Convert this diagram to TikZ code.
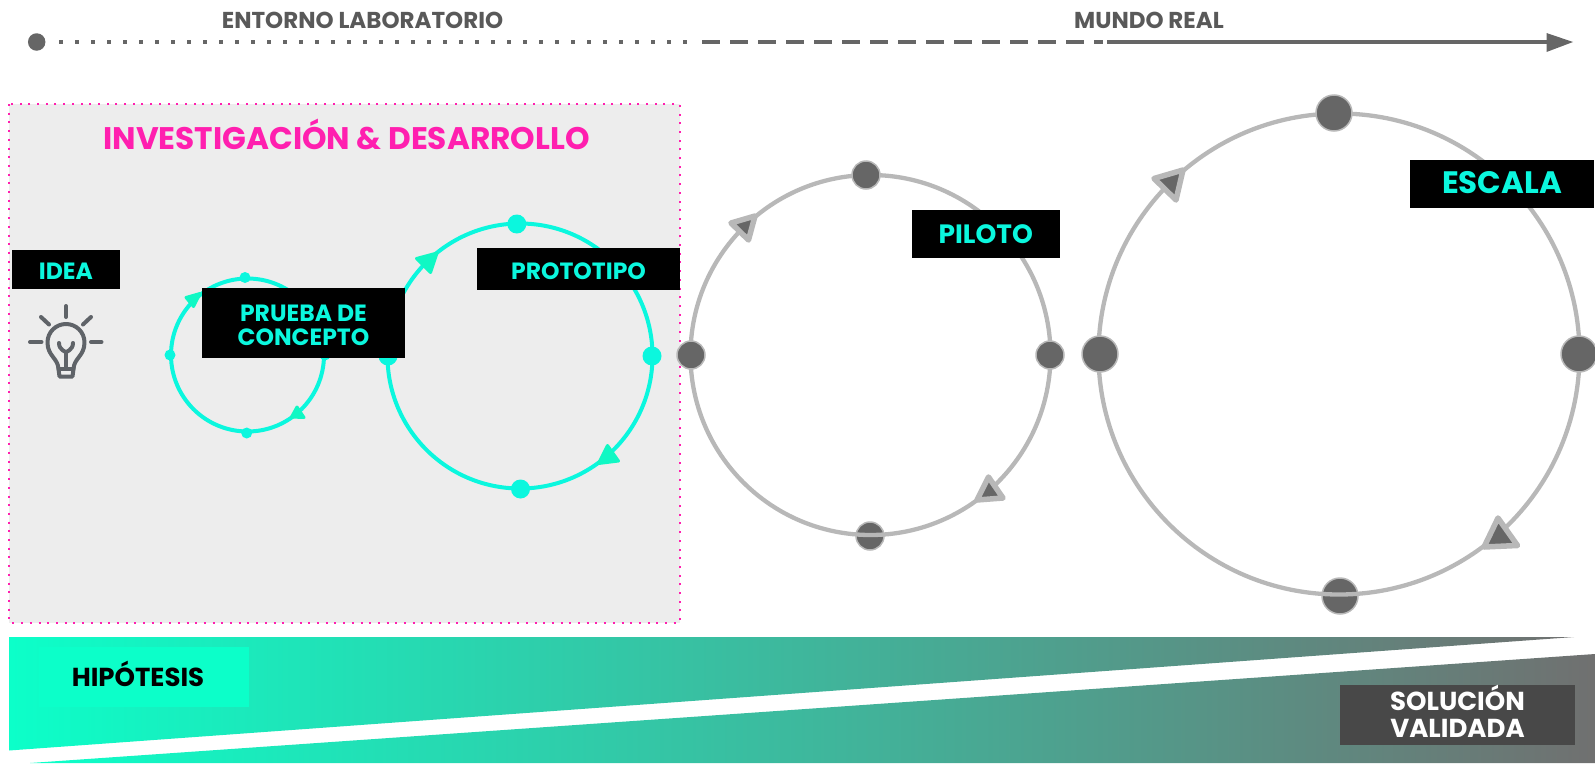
\documentclass[tikz,border=0pt]{standalone}
\usepackage{fontspec}
\setmainfont{Poppins}
\definecolor{cyanline}{HTML}{0BF7DE}
\definecolor{mint}{HTML}{0CFFC9}
\definecolor{arrowmint}{HTML}{10F8C4}
\definecolor{pink}{HTML}{FF1FAF}
\definecolor{panel}{HTML}{EDEDED}
\definecolor{ringgray}{HTML}{B8B8B8}
\definecolor{dark}{HTML}{666666}
\definecolor{label}{HTML}{595959}
\definecolor{bulb}{HTML}{5F6368}
\definecolor{endgray}{HTML}{707070}
\definecolor{solbox}{HTML}{484848}
\newcommand{\capline}[2]{\raisebox{#1pt}[\fontcharht\font`E][0pt]{#2}}
\tikzset{
  tag/.style={fill=black,text=cyanline,font=\bfseries\fontsize{23.5}{23.5}\selectfont,align=center,inner sep=0pt,anchor=center},
  cring/.style={circle,draw=cyanline,line width=4pt,inner sep=0pt},
  cdot/.style={circle,fill=cyanline,inner sep=0pt},
  gring/.style={circle,draw=ringgray,line width=4.3pt,inner sep=0pt},
  gdot/.style={circle,fill=dark,draw=ringgray,line width=1.5pt,inner sep=0pt},
  carrow/.style={fill=arrowmint,draw=arrowmint,line width=3pt,line join=round},
  garrow/.style={fill=dark,draw=ringgray,line width=5.5pt,line join=round},
  bulbline/.style={draw=bulb,line width=4pt,line cap=round,line join=round},
  toplabel/.style={text=label,font=\bfseries\fontsize{23}{26}\selectfont,inner sep=0pt},
  topline/.style={draw=dark,line width=4pt}
}
\begin{document}
\begin{tikzpicture}[x=1pt,y=-1pt]
\useasboundingbox (0,0) rectangle (1595,763);
% timeline
\node[circle,fill=dark,minimum size=17.5pt,inner sep=0pt] (start) at (36.7,42) {};
\coordinate (dotstart) at (59,42);
\coordinate (dotend) at (690,42);
\coordinate (dashstart) at (702,42);
\coordinate (dashend) at (1103,42);
\coordinate (solidstart) at (1107,42);
\coordinate (solidend) at (1550,42);
\coordinate (tipA) at (1573,42);
\coordinate (tipB) at (1546.5,33);
\coordinate (tipC) at (1546.5,52);
\draw[topline,dash pattern=on 4pt off 12pt] (dotstart) -- (dotend);
\draw[topline,dash pattern=on 17.5pt off 10.5pt] (dashstart) -- (dashend);
\draw[topline] (solidstart) -- (solidend);
\fill[dark] (tipA) -- (tipB) -- (tipC) -- cycle;
\node[toplabel] (lab) at (362.5,20) {ENTORNO LABORATORIO};
\node[toplabel] (real) at (1149,20) {MUNDO REAL};
% panel
\fill[panel] (9,104) rectangle (680,622.5);
\draw[pink,line width=2pt,dash pattern=on 2pt off 6.7pt] (9,104) rectangle (680,622.5);
\node[text=pink,font=\bfseries\fontsize{31.2}{34}\selectfont,inner sep=0pt] (rd) at (346.5,134) {INVESTIGACIÓN \& DESARROLLO};
% idea
\node[tag,minimum width=108pt,minimum height=39pt] (idea) at (66,269.5) {\capline{-2}{IDEA}};
% bulb
\draw[bulbline] (66,306) -- (66,317);
\draw[bulbline] (30,342) -- (41.5,342);
\draw[bulbline] (91,342) -- (101.5,342);
\draw[bulbline] (41,317) -- (49,324.5);
\draw[bulbline] (91,317) -- (83,324.5);
\draw[bulbline] (58.5,369) .. controls (58,358) and (47.5,356) .. (47.5,342.5) .. controls (47.5,332) and (56,324) .. (66,324) .. controls (76,324) and (84.5,332) .. (84.5,342.5) .. controls (84.5,356) and (74,358) .. (73.5,369) -- (72.5,376.5) -- (59.5,376.5) -- cycle;
\draw[bulbline] (59,343) .. controls (59,350) and (66,352) .. (66,352) .. controls (66,352) and (73,350) .. (73,343);
\draw[bulbline] (66,352) -- (66,368);
\draw[bulbline] (58.5,369) -- (73.5,369);
% small cycle
\node[cring,minimum size=153pt] (small) at (247.5,355) {};
\node[cdot,minimum size=11pt] (s1) at (245,277.5) {};
\node[cdot,minimum size=11pt] (s2) at (170,355) {};
\node[cdot,minimum size=11pt] (s3) at (246.7,433) {};
\node[cdot,minimum size=11pt] (s4) at (325,355) {};
\draw[carrow] (186,297.5) -- (200,293.5) -- (193.5,306.5) -- cycle;
\draw[carrow] (297,407) -- (304,417.5) -- (291.5,417) -- cycle;
% prototype cycle
\node[cring,minimum size=265pt] (proto) at (520,356) {};
\node[cdot,minimum size=19pt] (b1) at (516.8,224) {};
\node[cdot,minimum size=19pt] (b2) at (388,356) {};
\node[cdot,minimum size=19pt] (b3) at (520.5,489) {};
\node[cdot,minimum size=19pt] (b4) at (652,356) {};
\draw[carrow] (416.5,258.5) -- (437,253) -- (430.5,272.5) -- cycle;
\draw[carrow] (607.5,445.5) -- (618.5,461) -- (598.5,463.5) -- cycle;
\node[tag,minimum width=203pt,minimum height=70pt] (pc) at (303.5,323) {\capline{-2}{PRUEBA DE}\\\capline{-2}{CONCEPTO}};
\node[tag,minimum width=203pt,minimum height=42pt] (pt) at (578.5,269) {\capline{-2}{PROTOTIPO}};
% pilot
\node[gdot,minimum size=28pt] (p3) at (870,536) {};
\node[gring,minimum size=360pt] (pilot) at (870.5,355) {};
\node[gdot,minimum size=28pt] (p1) at (866,175) {};
\node[gdot,minimum size=28pt] (p2) at (691,355) {};
\node[gdot,minimum size=28pt] (p4) at (1050,355) {};
\draw[garrow] (731,223) -- (755,216) -- (748.5,240) -- cycle;
\draw[garrow] (988.5,477) -- (1003,498) -- (977,500) -- cycle;
\node[tag,font=\bfseries\fontsize{26.5}{28}\selectfont,minimum width=148pt,minimum height=48pt] (pl) at (985.7,234) {\capline{0}{PILOTO}};
% scale
\node[gdot,minimum size=36pt] (e3) at (1340,596) {};
\node[gring,minimum size=481pt] (scale) at (1339,354) {};
\node[gdot,minimum size=36pt] (e1) at (1334,113) {};
\node[gdot,minimum size=36pt] (e2) at (1100,354) {};
\node[gdot,minimum size=36pt] (e4) at (1579,354) {};
\draw[garrow] (1154,178.5) -- (1183,170) -- (1176,200) -- cycle;
\draw[garrow] (1498,518) -- (1517.5,545.5) -- (1484,547) -- cycle;
\node[tag,font=\bfseries\fontsize{31}{34}\selectfont,minimum width=183.5pt,minimum height=48pt] (es) at (1502,184) {\capline{1}{ESCALA}};
% banner
\shade[left color=mint,right color=endgray] (9,637) -- (1574,637) -- (9,750.5) -- cycle;
\shade[left color=mint,right color=endgray] (30,763) -- (1595,654) -- (1595,763) -- cycle;
\node[fill=mint,minimum width=210pt,minimum height=60pt,inner sep=0pt] (hb) at (144,677) {};
\node[text=black,font=\bfseries\fontsize{26}{28}\selectfont,inner sep=0pt] (h) at (138,674) {HIPÓTESIS};
\node[fill=solbox,text=white,font=\bfseries\fontsize{26}{26.5}\selectfont,align=center,minimum width=235pt,minimum height=60pt,inner sep=0pt] (sv) at (1457.5,715) {\capline{0}{SOLUCIÓN}\\\capline{0}{VALIDADA}};
\end{tikzpicture}
\end{document}
